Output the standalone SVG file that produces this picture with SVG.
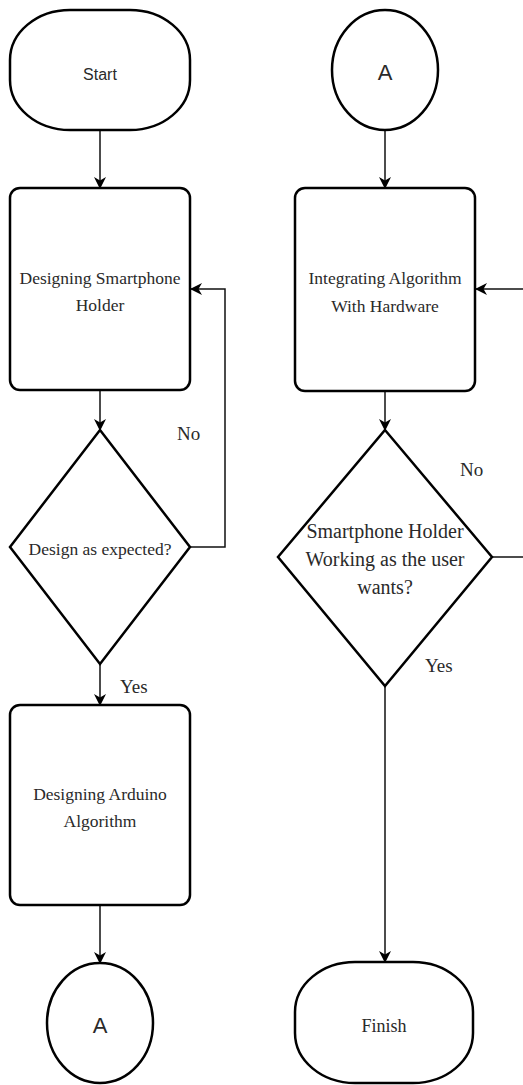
<svg xmlns="http://www.w3.org/2000/svg" width="523" height="1085" viewBox="0 0 523 1085">
<style>
.shape{fill:#fff;stroke:#000;stroke-width:2.5}
.conn{fill:none;stroke:#111;stroke-width:1.5}
.serif{font-family:"Liberation Serif","Times New Roman",serif;fill:#2a2a2a;text-anchor:middle}
.sans{font-family:"Liberation Sans",Arial,sans-serif;fill:#2a2a2a;text-anchor:middle}
.lbl{font-family:"Liberation Serif","Times New Roman",serif;fill:#2a2a2a;font-size:19px}
</style>
<defs>
<marker id="arr" viewBox="0 0 12 12" refX="11" refY="6" markerWidth="12" markerHeight="12" markerUnits="userSpaceOnUse" orient="auto">
<path d="M0,0 L12,6 L0,12 L3.5,6 z" fill="#000"/>
</marker>
</defs>
<rect width="523" height="1085" fill="#fff"/>
<g id="connectors">
<path class="conn" d="M100,130 V188" marker-end="url(#arr)"/>
<path class="conn" d="M100,390 V430" marker-end="url(#arr)"/>
<path class="conn" d="M190,547 H225 V289 H191" marker-end="url(#arr)"/>
<path class="conn" d="M100,664 V705" marker-end="url(#arr)"/>
<path class="conn" d="M100,905 V963" marker-end="url(#arr)"/>
<path class="conn" d="M385,130 V188" marker-end="url(#arr)"/>
<path class="conn" d="M385,391 V430" marker-end="url(#arr)"/>
<path class="conn" d="M523,289 H476" marker-end="url(#arr)"/>
<path class="conn" d="M492,557 H523"/>
<path class="conn" d="M385,686 V962" marker-end="url(#arr)"/>
<text class="lbl" x="177" y="440">No</text>
<text class="lbl" x="120" y="693">Yes</text>
<text class="lbl" x="460" y="476">No</text>
<text class="lbl" x="425" y="672">Yes</text>
</g>
<g id="start">
<rect class="shape" x="10" y="10" width="180" height="120" rx="60" ry="50"/>
<text class="sans" x="100" y="80" font-size="16">Start</text>
</g>
<g id="designHolder">
<rect class="shape" x="10" y="188" width="180" height="202" rx="10"/>
<text class="serif" x="100" y="284" font-size="17.5">Designing Smartphone</text>
<text class="serif" x="100" y="311" font-size="17.5">Holder</text>
</g>
<g id="decision1">
<polygon class="shape" points="100,430 190,547 100,664 10,547"/>
<text class="serif" x="100" y="555" font-size="17.5">Design as expected?</text>
</g>
<g id="designArduino">
<rect class="shape" x="10" y="705" width="180" height="200" rx="10"/>
<text class="serif" x="100" y="800" font-size="17.5">Designing Arduino</text>
<text class="serif" x="100" y="827" font-size="17.5">Algorithm</text>
</g>
<g id="connectorA1">
<ellipse class="shape" cx="100" cy="1023" rx="53" ry="60"/>
<text class="sans" x="100" y="1033" font-size="22">A</text>
</g>
<g id="connectorA2">
<ellipse class="shape" cx="385" cy="70" rx="53" ry="60"/>
<text class="sans" x="385" y="80" font-size="22">A</text>
</g>
<g id="integrate">
<rect class="shape" x="295" y="188" width="180" height="203" rx="10"/>
<text class="serif" x="385" y="284" font-size="17.5">Integrating Algorithm</text>
<text class="serif" x="385" y="312" font-size="17.5">With Hardware</text>
</g>
<g id="decision2">
<polygon class="shape" points="385,430 492,557 385,686 278,557"/>
<text class="serif" x="385" y="538" font-size="20">Smartphone Holder</text>
<text class="serif" x="385" y="566" font-size="20">Working as the user</text>
<text class="serif" x="385" y="594" font-size="20">wants?</text>
</g>
<g id="finish">
<rect class="shape" x="295" y="962" width="178" height="121" rx="60" ry="50"/>
<text class="serif" x="384" y="1032" font-size="18">Finish</text>
</g>
</svg>
